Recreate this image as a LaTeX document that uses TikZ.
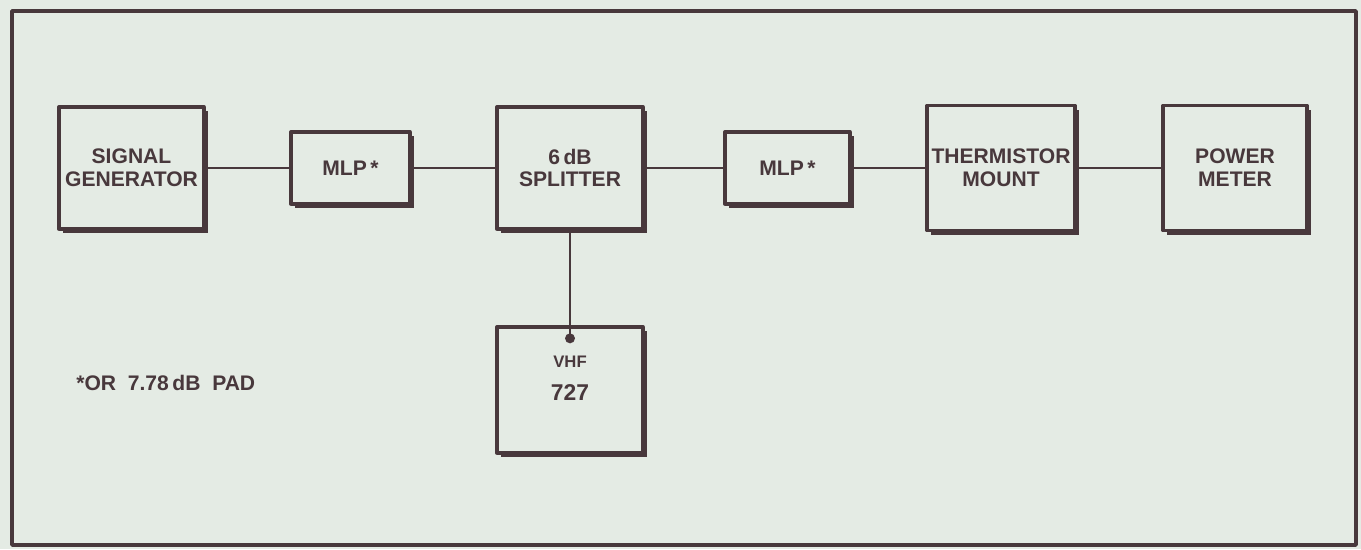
\documentclass[tikz,border=0pt]{standalone}
\usepackage{fontspec}
\setmainfont{Liberation Sans}
\usetikzlibrary{shadows,positioning}

\definecolor{paper}{RGB}{228,235,228}
\definecolor{ink}{RGB}{72,56,60}

\begin{document}
\begin{tikzpicture}[x=0.02cm, y=-0.02cm, line join=round,
	every node/.style={font=\bfseries\fontsize{12}{13}\selectfont, text=ink, align=center},
	blk/.style={draw=ink, line width=1.9pt, fill=paper, inner sep=0pt,
		drop shadow={shadow xshift=2.4pt, shadow yshift=-2.4pt, fill=ink, opacity=1}},
	wire/.style={draw=ink, line width=1.3pt}]
	\fill[paper] (0,0) rectangle (1361,549);
	\useasboundingbox (0,0) rectangle (1361,549);
	\draw[ink, line width=2pt] (12,11) rectangle (1356,545);
	% top row
	\node[blk, minimum width=2.9cm, minimum height=2.44cm] (siggen) at (131.5,168) {SIGNAL\\GENERATOR};
	\node[blk, minimum width=2.38cm, minimum height=1.44cm] (mlpa) at (350.5,168) {MLP\,*};
	\node[blk, minimum width=2.92cm, minimum height=2.44cm] (split) at (570,168) {6\,dB\\SPLITTER};
	\node[blk, minimum width=2.5cm, minimum height=1.44cm] (mlpb) at (787.5,168) {MLP\,*};
	\node[blk, minimum width=2.96cm, minimum height=2.5cm] (therm) at (1001,168) {THERMISTOR\\MOUNT};
	\node[blk, minimum width=2.88cm, minimum height=2.5cm] (pmeter) at (1235,168) {POWER\\METER};
	% receiver under the splitter
	\node[blk, minimum width=2.92cm, minimum height=2.52cm] (vhf) at (570,390) {};
	\node[fill=ink, circle, inner sep=0pt, minimum size=0.2cm] (jack) at ([yshift=-0.26cm]vhf.north) {};
	\node[below=0.24cm of jack, inner sep=0pt] (vhflabel) {{\fontsize{9.5}{10}\selectfont VHF}\\[6pt]{\fontsize{13}{14}\selectfont 727}};
	\draw[wire] (siggen.east) -- (mlpa.west);
	\draw[wire] (mlpa.east) -- (split.west);
	\draw[wire] (split.east) -- (mlpb.west);
	\draw[wire] (mlpb.east) -- (therm.west);
	\draw[wire] (therm.east) -- (pmeter.west);
	\draw[wire] (split.south) -- (jack.center);
	% footnote
	\node[anchor=west, inner sep=0pt] (note) at (76,383) {*OR\ \ 7.78\,dB\ \ PAD};
\end{tikzpicture}
\end{document}
